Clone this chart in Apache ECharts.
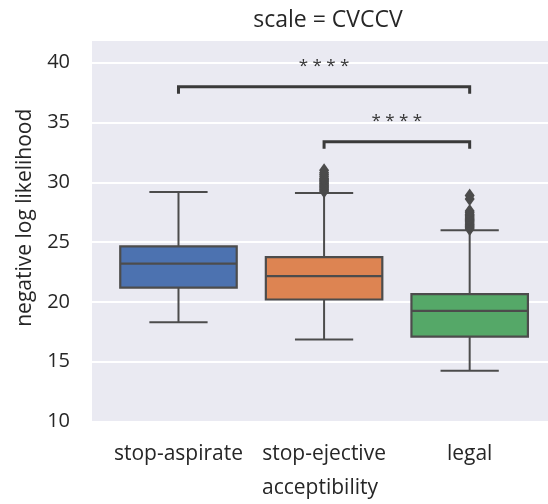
<!DOCTYPE html>
<html>
<head>
<meta charset="utf-8">
<script src="https://cdn.jsdelivr.net/npm/echarts@6/dist/echarts.min.js"></script>
<style>
html,body{margin:0;padding:0;background:#fff;}
#chart{width:548px;height:504px;}
</style>
</head>
<body>
<div id="chart"></div>
<script>
// ---- data ----
const categories = ['stop-aspirate', 'stop-ejective', 'legal'];
const whiskerLow  = [18.3, 16.85, 14.25];
const q1          = [21.2, 20.2, 17.1];
const median      = [23.2, 22.15, 19.25];
const q3          = [24.65, 23.75, 20.65];
const whiskerHigh = [29.2, 29.1, 26.0];
const outliersEjective = [29.25, 29.35, 29.45, 29.55, 29.65, 29.75, 29.85, 29.95, 30.05, 30.15, 30.25, 30.35, 30.5, 30.65, 30.8, 31.0];
const outliersLegal = [26.1, 26.2, 26.3, 26.4, 26.5, 26.6, 26.7, 26.8, 26.9, 27.0, 27.1, 27.2, 27.3, 27.45, 27.6, 28.6, 28.9];
const yTicks = [10, 15, 20, 25, 30, 35, 40];
const comparisons = [
  { from: 0, to: 2, label: '* * * *' },
  { from: 1, to: 2, label: '* * * *' }
];

// ---- styling ----
const boxColors = ['#4c72b0', '#dd8452', '#55a868'];
const lineColor = '#4c4c4c';
const textColor = '#262626';
const FONT = '"Open Sans", "Noto Sans", sans-serif';
const bracketLevels = [38.0, 33.4];
const bracketDrop = 0.6;

const boxData = categories.map((c, i) => [i, whiskerLow[i], q1[i], median[i], q3[i], whiskerHigh[i]]);
const outlierData = [];
outliersEjective.forEach(v => outlierData.push([1, v]));
outliersLegal.forEach(v => outlierData.push([2, v]));
const bracketData = comparisons.map((c, i) => [c.from, c.to, bracketLevels[i], i]);

const chart = echarts.init(document.getElementById('chart'));
chart.setOption({
  backgroundColor: '#ffffff',
  animation: false,
  title: {
    text: 'scale = CVCCV',
    left: 323, top: 4,
    textAlign: 'center',
    textStyle: { fontFamily: FONT, fontSize: 23, fontWeight: 'normal', color: textColor }
  },
  grid: {
    left: 92, right: 0, top: 40, bottom: 82.5,
    show: true, backgroundColor: '#eaeaf2', borderWidth: 0
  },
  xAxis: {
    type: 'value',
    min: -0.594, max: 2.538,
    axisLine: { show: false }, axisTick: { show: false }, splitLine: { show: false },
    axisLabel: {
      customValues: [0, 1, 2],
      formatter: v => categories[Math.round(v)],
      fontFamily: FONT, fontSize: 21, color: textColor, margin: 22
    },
    name: 'acceptibility', nameLocation: 'middle', nameGap: 56,
    nameTextStyle: { fontFamily: FONT, fontSize: 21, color: textColor }
  },
  yAxis: {
    type: 'value',
    min: 10, max: 41.9, interval: 5,
    axisLine: { show: false }, axisTick: { show: false },
    splitLine: { show: true, lineStyle: { color: '#ffffff', width: 2 } },
    axisLabel: {
      customValues: yTicks,
      fontFamily: FONT, fontSize: 20, color: textColor, margin: 22
    },
    name: 'negative log likelihood', nameLocation: 'middle', nameGap: 56,
    nameTextStyle: { fontFamily: FONT, fontSize: 21, color: textColor, padding: [0, 0, 0, 26] }
  },
  series: [
    {
      type: 'custom',
      data: boxData,
      z: 3,
      renderItem: function (params, api) {
        const x = api.value(0);
        const w = api.size([0.8, 0])[0];
        const cw = api.size([0.4, 0])[0];
        const pLow = api.coord([x, api.value(1)]);
        const pQ1 = api.coord([x, api.value(2)]);
        const pMed = api.coord([x, api.value(3)]);
        const pQ3 = api.coord([x, api.value(4)]);
        const pHigh = api.coord([x, api.value(5)]);
        const cx = pQ1[0];
        const ls = { stroke: lineColor, lineWidth: 2 };
        return {
          type: 'group',
          children: [
            { type: 'line', shape: { x1: cx, y1: pQ1[1], x2: cx, y2: pLow[1] }, style: ls },
            { type: 'line', shape: { x1: cx, y1: pQ3[1], x2: cx, y2: pHigh[1] }, style: ls },
            { type: 'line', shape: { x1: cx - cw / 2, y1: pLow[1], x2: cx + cw / 2, y2: pLow[1] }, style: ls },
            { type: 'line', shape: { x1: cx - cw / 2, y1: pHigh[1], x2: cx + cw / 2, y2: pHigh[1] }, style: ls },
            { type: 'rect', shape: { x: cx - w / 2, y: pQ3[1], width: w, height: pQ1[1] - pQ3[1] },
              style: { fill: boxColors[params.dataIndex], stroke: lineColor, lineWidth: 2.2 } },
            { type: 'line', shape: { x1: cx - w / 2, y1: pMed[1], x2: cx + w / 2, y2: pMed[1] }, style: { stroke: lineColor, lineWidth: 2.2 } }
          ]
        };
      }
    },
    {
      type: 'scatter',
      data: outlierData,
      symbol: 'path://M0,-10L6,0L0,10L-6,0Z',
      symbolSize: [10, 14],
      itemStyle: { color: lineColor, opacity: 1 },
      z: 4
    },
    {
      type: 'custom',
      data: bracketData,
      z: 5,
      renderItem: function (params, api) {
        const a = api.coord([api.value(0), api.value(2)]);
        const b = api.coord([api.value(1), api.value(2)]);
        const a0 = api.coord([api.value(0), api.value(2) - bracketDrop]);
        const b0 = api.coord([api.value(1), api.value(2) - bracketDrop]);
        return {
          type: 'group',
          children: [
            { type: 'polyline', shape: { points: [a0, a, b, b0] },
              style: { stroke: '#3a3a3a', lineWidth: 3, fill: 'none' } },
            { type: 'text', style: {
                text: comparisons[params.dataIndex].label,
                x: (a[0] + b[0]) / 2, y: a[1] - 20,
                align: 'center', verticalAlign: 'middle',
                fontFamily: FONT, fontSize: 17, fill: '#333333'
              } }
          ]
        };
      }
    }
  ]
});
</script>
</body>
</html>
